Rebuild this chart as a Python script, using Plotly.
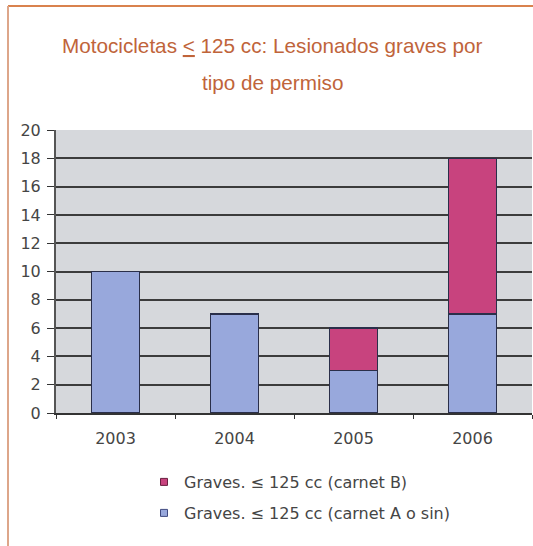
import plotly.graph_objects as go

years = ["2003", "2004", "2005", "2006"]
carnet_a = [10, 7, 3, 7]
carnet_b = [0, 0, 3, 11]
name_a = "Graves. ≤ 125 cc (carnet A o sin)"
name_b = "Graves. ≤ 125 cc (carnet B)"
title1 = 'Motocicletas <span style="text-decoration:underline">&lt;</span> 125 cc: Lesionados graves por'
title2 = "tipo de permiso"
y_ticks = list(range(0, 21, 2))

W, H = 533, 546
L, R, T, B = 56, 532, 130, 413

def px(x):
    return (x - L) / (R - L)

def py(y):
    return (B - y) / (B - T)

blue = "#98A8DC"
magenta = "#C8437E"
outline = "#2A2F4A"
tick_font = "DejaVu Sans, Verdana, sans-serif"
title_font = "Liberation Sans, Arial, sans-serif"

fig = go.Figure()
fig.add_trace(go.Bar(x=years, y=carnet_a, marker=dict(color=blue, line=dict(color=outline, width=1.5)),
                     showlegend=False, name=name_a))
fig.add_trace(go.Bar(x=years, y=carnet_b, marker=dict(color=magenta, line=dict(color=outline, width=1.5)),
                     showlegend=False, name=name_b))
fig.add_trace(go.Scatter(x=[None], y=[None], mode="markers", name=name_b, legend="legend",
                         marker=dict(symbol="square", size=7, color=magenta, line=dict(color="#6A2040", width=1))))
fig.add_trace(go.Scatter(x=[None], y=[None], mode="markers", name=name_a, legend="legend2",
                         marker=dict(symbol="square", size=7, color=blue, line=dict(color="#404A80", width=1))))

fig.update_layout(
    width=W, height=H,
    margin=dict(l=L, r=W - R, t=T, b=H - B),
    paper_bgcolor="white",
    plot_bgcolor="#D6D8DC",
    barmode="stack",
    bargap=0.6,
    font=dict(family=tick_font, size=16, color="#454545"),
    legend=dict(x=px(144), y=py(482), xanchor="left", yanchor="middle", bgcolor="rgba(0,0,0,0)",
                font=dict(family=tick_font, size=16, color="#454545")),
    legend2=dict(x=px(144), y=py(513), xanchor="left", yanchor="middle", bgcolor="rgba(0,0,0,0)",
                 font=dict(family=tick_font, size=16, color="#454545")),
    xaxis=dict(type="category", showline=True, linecolor="#333333", linewidth=2,
               ticks="outside", tickson="boundaries", ticklen=4, tickcolor="#333333",
               ticklabelstandoff=10, showgrid=False, range=[-0.5, 3.5]),
    yaxis=dict(range=[0, 20], tickvals=y_ticks, showgrid=True, gridcolor="#3C3C3C", gridwidth=2,
               showline=True, linecolor="#555555", linewidth=2, ticks="outside", ticklen=7,
               tickcolor="#333333", ticklabelstandoff=3, zeroline=False),
    annotations=[
        dict(text=title1, xref="paper", yref="paper", x=px(272), y=py(46), showarrow=False,
             xanchor="center", yanchor="middle", font=dict(family=title_font, size=20.7, color="#C0643A")),
        dict(text=title2, xref="paper", yref="paper", x=px(272), y=py(83), showarrow=False,
             xanchor="center", yanchor="middle", font=dict(family=title_font, size=20.7, color="#C0643A")),
    ],
    shapes=[
        dict(type="line", xref="paper", yref="paper", x0=px(8), x1=px(533), y0=py(6), y1=py(6),
             line=dict(color="#D9824E", width=2)),
        dict(type="line", xref="paper", yref="paper", x0=px(8), x1=px(8), y0=py(6), y1=py(546),
             line=dict(color="#DDA68A", width=2)),
    ],
)

fig.write_html("out.html", config={"displayModeBar": False},
               post_script="document.body.style.margin='0';")
